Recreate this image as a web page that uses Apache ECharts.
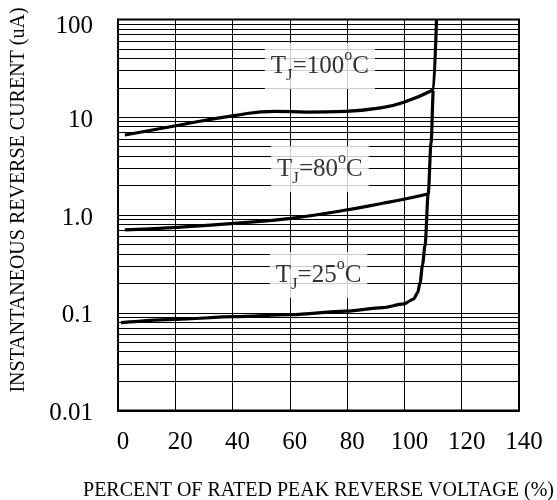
<!DOCTYPE html>
<html><head><meta charset="utf-8">
<script src="https://cdn.jsdelivr.net/npm/echarts@6/dist/echarts.min.js"></script>
<style>html,body{margin:0;padding:0;background:#fff}#c{width:557px;height:500px}</style>
</head><body><div id="c"></div>
<script>
// ---- data ----
const xMin = 0, xMax = 140, xStep = 20;
const yTickText = { '100': '100', '10': '10', '1': '1.0', '0.1': '0.1', '0.01': '0.01' };

const t100X = [2.4, 20.2, 40.5, 55.0, 66.0, 79.6, 92.5, 99.8, 110.0];
const t100Y = [6.58, 8.19, 10.4, 11.5, 11.3, 11.5, 12.6, 14.2, 19.0];

const t80X = [2.4, 20.2, 40.5, 60.4, 79.6, 92.5, 99.8, 108.2];
const t80Y = [0.703, 0.748, 0.822, 0.924, 1.125, 1.318, 1.449, 1.64];

const t25X = [1.05, 20.2, 40.5, 60.4, 79.6, 92.5, 99.8, 103.2, 104.6, 105.5, 106.3, 107.2, 108.3, 109.3, 110.1, 111.2];
const t25Y = [0.0791, 0.0857, 0.0912, 0.0955, 0.104, 0.113, 0.123, 0.138, 0.16, 0.205, 0.308, 0.493, 1.64, 5.46, 19.0, 100];

const labelTemps = ['100', '80', '25'];
const labelX = [70.5, 70.5, 70];
const labelY = [33.4, 2.955, 0.243];

const xName = 'PERCENT OF RATED PEAK REVERSE VOLTAGE (%)';
const yName = 'INSTANTANEOUS REVERSE CURENT (uA)';

// ---- build ----
const FONT = 'Liberation Serif';
const zip = (xs, ys) => xs.map((x, i) => [x, ys[i]]);

const minorVals = [];
[0.01, 0.1, 1, 10].forEach(d => { for (let k = 2; k <= 9; k++) minorVals.push(+(k * d).toPrecision(3)); });

const curve = (name, data, mono) => ({
  name, type: 'line', data, showSymbol: false, symbol: 'none',
  smooth: mono ? 0.3 : 0.5, smoothMonotone: mono ? 'x' : null, z: 4,
  lineStyle: { color: '#000', width: 3.2 }
});

const rich = {
  t: { fontSize: 25, fontFamily: FONT, color: '#000', lineHeight: 36 },
  s: { fontSize: 17, fontFamily: FONT, color: '#000', lineHeight: 17, verticalAlign: 'bottom' },
  o: { fontSize: 16, fontFamily: FONT, color: '#000', lineHeight: 12, verticalAlign: 'top' }
};

const option = {
  animation: false,
  backgroundColor: '#fff',
  grid: {
    left: 118, right: 38, top: 19.5, bottom: 89.5, containLabel: false, outerBoundsMode: 'none',
    show: true, borderColor: '#000', borderWidth: 2, backgroundColor: 'transparent'
  },
  xAxis: {
    type: 'value', min: xMin, max: xMax, interval: xStep,
    name: xName, nameLocation: 'middle', nameGap: 70,
    nameTextStyle: { fontFamily: FONT, fontSize: 20, color: '#000' },
    axisLine: { show: true, lineStyle: { color: '#000', width: 2 } },
    axisTick: { show: false },
    axisLabel: { fontFamily: FONT, fontSize: 25, color: '#000', margin: 19, padding: [0, 0, 0, 10] },
    splitLine: { show: true, lineStyle: { color: '#000', width: 1 } }
  },
  yAxis: {
    type: 'log', logBase: 10, min: 0.01, max: 100,
    name: yName, nameLocation: 'middle', nameGap: 89, nameRotate: 90,
    nameTextStyle: { fontFamily: FONT, fontSize: 20, color: '#000', padding: [0, 0, 0, 30] },
    axisLine: { show: true, lineStyle: { color: '#000', width: 2 } },
    axisTick: { show: false },
    axisLabel: {
      fontFamily: FONT, fontSize: 25, color: '#000', margin: 25,
      formatter: v => {
        const k = String(+v.toPrecision(3));
        const s = yTickText[k] || '';
        return (k === '100' ? '{top|' : '{n|') + s + '}';
      },
      rich: {
        n: { fontFamily: FONT, fontSize: 25, color: '#000', padding: [6, 0, 0, 0] },
        top: { fontFamily: FONT, fontSize: 25, color: '#000', padding: [13, 0, 0, 0] }
      }
    },
    splitLine: { show: true, lineStyle: { color: '#000', width: 1 } }
  },
  series: [
    {
      name: 'grid', type: 'line', data: [], z: 1, silent: true,
      markLine: {
        silent: true, symbol: 'none', animation: false,
        label: { show: false },
        lineStyle: { color: '#000', width: 1, type: 'solid' },
        data: minorVals.map(v => ({ yAxis: v }))
      }
    },
    curve('TJ=100', zip(t100X, t100Y), false),
    curve('TJ=80', zip(t80X, t80Y), false),
    curve('TJ=25', zip(t25X, t25Y), true),
    {
      name: 'labels', type: 'scatter', z: 6, symbolSize: 1, silent: true,
      itemStyle: { color: 'rgba(0,0,0,0)' },
      data: labelTemps.map((t, i) => ({ value: [labelX[i], labelY[i]], temp: t })),
      label: {
        show: true, position: 'inside',
        backgroundColor: '#fff', padding: [5, 6, 5, 6],
        formatter: p => '{t|T}{s|J}{t|=' + p.data.temp + '}{o|o}{t|C}',
        rich
      }
    }
  ]
};
echarts.init(document.getElementById('c'), null, { renderer: 'canvas' }).setOption(option);
</script></body></html>
